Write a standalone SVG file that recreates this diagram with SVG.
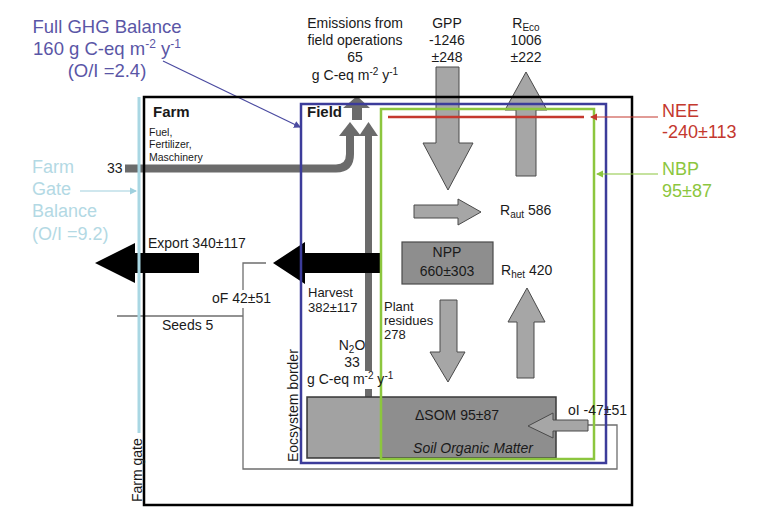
<svg xmlns="http://www.w3.org/2000/svg" width="759" height="523" viewBox="0 0 759 523">
<defs>
<style>
text{font-family:"Liberation Sans",Arial,sans-serif;fill:#1a1a1a}
.t14{font-size:14px}
.t13{font-size:13px}
.t11{font-size:10.5px}
.b{font-weight:bold;font-size:15px}
.ghg{fill:#5a56a6;font-size:18.5px}
.fg{fill:#b3d9e4;font-size:18px}
.nee{fill:#c4382e;font-size:18px}
.nbp{fill:#8cc63e;font-size:18px}
.garrow{fill:#a6a6a6;stroke:#4a4a4a;stroke-width:1}
.dbar{fill:#6b6b6b}
.thin{fill:none;stroke:#6e6e6e;stroke-width:1.3}
</style>
<marker id="mb" markerWidth="6" markerHeight="6" refX="5" refY="3" orient="auto"><path d="M0,0 L6,3 L0,6 z" fill="#4a4aa0"/></marker>
<marker id="ml" markerWidth="6" markerHeight="6" refX="5" refY="3" orient="auto"><path d="M0,0 L6,3 L0,6 z" fill="#9fd0de"/></marker>
<marker id="mr" markerWidth="6" markerHeight="6" refX="5" refY="3" orient="auto"><path d="M0,0 L6,3 L0,6 z" fill="#c4382e"/></marker>
<marker id="mg" markerWidth="6" markerHeight="6" refX="5" refY="3" orient="auto"><path d="M0,0 L6,3 L0,6 z" fill="#8cc63e"/></marker>
</defs>
<rect width="759" height="523" fill="#fff"/>

<g id="connectors">
  <path class="thin" d="M266,263 H243 V290"/>
  <path class="thin" d="M243,308 V469 H617 V425 H588"/>
  <line class="thin" x1="117" y1="316" x2="243" y2="316"/>
  <path d="M125,168.5 H336 Q350,168.5 350,154 V135" fill="none" stroke="#6b6b6b" stroke-width="8"/>
  <polygon class="dbar" points="339,136 361,136 350,122"/>
  <rect class="dbar" x="365" y="135" width="7" height="236"/>
  <rect class="dbar" x="365" y="389" width="7" height="9"/>
  <polygon class="dbar" points="359,136 378,136 368.5,122"/>
  <polygon class="dbar" points="352,120 352,108 343,108 357,96 370,108 362,108 362,120"/>
  <line x1="163" y1="61" x2="300" y2="127" stroke="#4a4aa0" stroke-width="1.2" marker-end="url(#mb)"/>
  <line x1="80" y1="191" x2="136" y2="191" stroke="#9fd0de" stroke-width="1.2" marker-end="url(#ml)"/>
</g>

<g id="gpp-arrow"><polygon class="garrow" points="436,67 459,67 459,143 473,143 448,190 423,143 436,143"/></g>
<g id="reco-arrow"><polygon class="garrow" points="516,176 516,110 505,110 526,72 547,110 536,110 536,176"/></g>
<g id="raut-arrow"><polygon class="garrow" points="414,205 458,205 458,199 481,212 458,225 458,218 414,218"/></g>
<g id="residue-arrow"><polygon class="garrow" points="440,300 457,300 457,352 465,352 448,382 430,352 440,352"/></g>
<g id="rhet-arrow"><polygon class="garrow" points="517,378 517,322 508,322 527,288 545,322 534,322 534,378"/></g>

<g id="export-arrow"><polygon fill="#000" points="95,263 135,243 135,253 199,253 199,273 135,273 135,283"/></g>
<g id="harvest-arrow"><polygon fill="#000" points="273,263 305,242 305,253 381,253 381,273 305,273 305,284"/></g>

<g id="som">
  <rect x="307" y="397" width="249" height="61" fill="#8e8e8e" stroke="#3a3a3a" stroke-width="1.5"/>
  <rect x="308" y="398" width="73" height="59" fill="#a2a2a2"/>
  <text class="t14" x="457" y="420" text-anchor="middle">ΔSOM  95±87</text>
  <text class="t14" x="473" y="453" text-anchor="middle" font-style="italic">Soil Organic Matter</text>
</g>
<g id="oi-arrow"><polygon class="garrow" points="588,420 553,420 553,413 528,426 553,438 553,431 588,431"/></g>

<g id="npp">
  <rect x="402" y="242" width="91" height="42" fill="#8e8e8e" stroke="#4a4a4a" stroke-width="1.2"/>
  <text class="t14" x="447" y="257" text-anchor="middle">NPP</text>
  <text class="t14" x="447" y="276" text-anchor="middle">660±303</text>
</g>

<g id="farm">
  <rect x="144" y="97" width="488" height="408" fill="none" stroke="#000" stroke-width="2.5"/>
  <text class="b" x="153" y="117">Farm</text>
  <text class="t11" x="149" y="136">Fuel,</text>
  <text class="t11" x="149" y="148">Fertilizer,</text>
  <text class="t11" x="149" y="161">Maschinery</text>
</g>
<g id="farm-gate">
  <line x1="139" y1="97" x2="139" y2="433" stroke="#a9d7e3" stroke-width="3"/>
  <text class="t14" transform="translate(142,502) rotate(-90)">Farm gate</text>
</g>
<g id="field">
  <rect x="301" y="104" width="305" height="359" fill="none" stroke="#3c3c9a" stroke-width="2.5"/>
  <text class="b" x="307" y="117">Field</text>
  <text class="t14" transform="translate(298,462) rotate(-90)">Eocsystem border</text>
</g>
<g id="nbp-box">
  <rect x="381" y="109" width="213" height="350" fill="none" stroke="#8cc63e" stroke-width="2.5"/>
</g>
<g id="nee-line">
  <line x1="388" y1="117" x2="584" y2="117" stroke="#c4382e" stroke-width="2.5"/>
</g>

<g id="nee-label">
  <line x1="658" y1="117" x2="591" y2="117" stroke="#c4382e" stroke-width="1.2" marker-end="url(#mr)"/>
  <text class="nee" x="662" y="117">NEE</text>
  <text class="nee" x="662" y="138">-240±113</text>
</g>
<g id="nbp-label">
  <line x1="658" y1="174" x2="597" y2="174" stroke="#8cc63e" stroke-width="1.2" marker-end="url(#mg)"/>
  <text class="nbp" x="662" y="175">NBP</text>
  <text class="nbp" x="662" y="197">95±87</text>
</g>

<g id="ghg-label">
  <text class="ghg" x="107" y="33" text-anchor="middle">Full GHG Balance</text>
  <text class="ghg" x="107" y="55" text-anchor="middle">160 g C-eq m<tspan font-size="12" dy="-7">-2</tspan><tspan dy="7"> y</tspan><tspan font-size="12" dy="-7">-1</tspan></text>
  <text class="ghg" x="107" y="77" text-anchor="middle">(O/I =2.4)</text>
</g>
<g id="farmgate-label">
  <text class="fg" x="32" y="173">Farm</text>
  <text class="fg" x="32" y="195">Gate</text>
  <text class="fg" x="32" y="217">Balance</text>
  <text class="fg" x="32" y="240">(O/I =9.2)</text>
</g>

<g id="emission-label">
  <text class="t14" x="355" y="28" text-anchor="middle">Emissions from</text>
  <text class="t14" x="355" y="45" text-anchor="middle">field operations</text>
  <text class="t14" x="355" y="62" text-anchor="middle">65</text>
  <text class="t14" x="355" y="80" text-anchor="middle">g C-eq m<tspan font-size="10" dy="-5">-2</tspan><tspan dy="5"> y</tspan><tspan font-size="10" dy="-5">-1</tspan></text>
</g>
<g id="gpp-label">
  <text class="t14" x="447" y="28" text-anchor="middle">GPP</text>
  <text class="t14" x="447" y="45" text-anchor="middle">-1246</text>
  <text class="t14" x="447" y="62" text-anchor="middle">±248</text>
</g>
<g id="reco-label">
  <text class="t14" x="526" y="28" text-anchor="middle">R<tspan font-size="10" dy="3">Eco</tspan></text>
  <text class="t14" x="526" y="45" text-anchor="middle">1006</text>
  <text class="t14" x="526" y="62" text-anchor="middle">±222</text>
</g>
<g id="other-labels">
  <text class="t14" x="107" y="173">33</text>
  <text class="t14" x="500" y="215">R<tspan font-size="10" dy="3">aut</tspan><tspan dy="-3"> 586</tspan></text>
  <text class="t14" x="501" y="275">R<tspan font-size="10" dy="3">het</tspan><tspan dy="-3"> 420</tspan></text>
  <text class="t14" x="148" y="248">Export 340±117</text>
  <text class="t14" x="212" y="303">oF 42±51</text>
  <text class="t14" x="162" y="330">Seeds 5</text>
  <text class="t13" x="308" y="297">Harvest</text>
  <text class="t13" x="308" y="312">382±117</text>
  <text class="t13" x="384" y="311">Plant</text>
  <text class="t13" x="384" y="325">residues</text>
  <text class="t13" x="384" y="339">278</text>
  <text class="t14" x="352" y="350" text-anchor="middle">N<tspan font-size="10" dy="3">2</tspan><tspan dy="-3">O</tspan></text>
  <text class="t14" x="352" y="367" text-anchor="middle">33</text>
  <text class="t14" x="307" y="384">g C-eq m<tspan font-size="10" dy="-5">-2</tspan><tspan dy="5"> y</tspan><tspan font-size="10" dy="-5">-1</tspan></text>
  <text class="t14" x="568" y="415">oI -47±51</text>
</g>
</svg>
